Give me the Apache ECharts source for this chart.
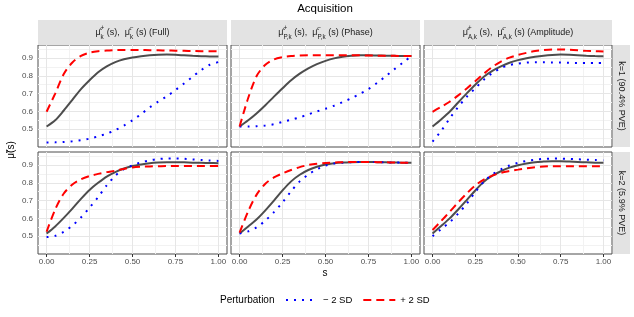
<!DOCTYPE html>
<html><head><meta charset="utf-8">
<script src="https://cdn.jsdelivr.net/npm/echarts@6/dist/echarts.min.js"></script>
<style>html,body{margin:0;padding:0;background:#fff}#c{width:634px;height:317px}</style>
</head><body><div id="c"></div>
<script>
// ---- data ----
const S = [0,0.05,0.1,0.15,0.2,0.25,0.3,0.35,0.4,0.45,0.5,0.55,0.6,0.65,0.7,0.75,0.8,0.85,0.9,0.95,1.0];

const fullK1Mean  = [0.515,0.55,0.605,0.665,0.725,0.775,0.82,0.853,0.877,0.893,0.903,0.91,0.915,0.918,0.919,0.918,0.915,0.912,0.91,0.909,0.908];
const fullK1Minus = [0.425,0.426,0.428,0.432,0.438,0.447,0.46,0.475,0.495,0.52,0.55,0.585,0.622,0.655,0.685,0.72,0.757,0.795,0.832,0.862,0.877];
const fullK1Plus  = [0.598,0.70,0.81,0.875,0.912,0.93,0.938,0.942,0.944,0.945,0.945,0.945,0.944,0.943,0.942,0.941,0.94,0.939,0.938,0.938,0.937];

const phaseK1Mean  = [0.515,0.55,0.59,0.635,0.683,0.73,0.775,0.812,0.842,0.866,0.884,0.898,0.907,0.912,0.915,0.915,0.914,0.913,0.912,0.911,0.911];
const phaseK1Minus = [0.515,0.515,0.517,0.521,0.528,0.541,0.553,0.567,0.583,0.6,0.615,0.632,0.652,0.674,0.698,0.725,0.76,0.797,0.836,0.874,0.911];
const phaseK1Plus  = [0.515,0.675,0.80,0.862,0.892,0.905,0.911,0.914,0.915,0.915,0.915,0.915,0.915,0.915,0.915,0.914,0.913,0.912,0.912,0.911,0.911];

const ampK1Mean  = [0.515,0.555,0.598,0.65,0.701,0.75,0.795,0.828,0.853,0.873,0.888,0.899,0.907,0.913,0.917,0.919,0.918,0.916,0.913,0.911,0.91];
const ampK1Minus = [0.43,0.49,0.56,0.625,0.682,0.73,0.778,0.815,0.843,0.86,0.869,0.874,0.876,0.876,0.875,0.874,0.873,0.872,0.872,0.872,0.872];
const ampK1Plus  = [0.598,0.625,0.654,0.69,0.729,0.77,0.812,0.85,0.88,0.902,0.917,0.929,0.939,0.945,0.948,0.948,0.946,0.943,0.94,0.938,0.937];

const fullK2Mean  = [0.515,0.555,0.603,0.655,0.71,0.76,0.8,0.835,0.86,0.88,0.894,0.903,0.91,0.914,0.916,0.916,0.915,0.913,0.912,0.911,0.91];
const fullK2Minus = [0.495,0.502,0.525,0.56,0.605,0.66,0.72,0.785,0.84,0.877,0.898,0.915,0.926,0.933,0.937,0.937,0.935,0.931,0.928,0.925,0.923];
const fullK2Plus  = [0.525,0.65,0.74,0.79,0.82,0.838,0.85,0.86,0.868,0.878,0.886,0.89,0.892,0.893,0.894,0.894,0.894,0.894,0.894,0.894,0.894];

const phaseK2Mean  = [0.515,0.555,0.595,0.645,0.7,0.757,0.808,0.845,0.872,0.89,0.903,0.91,0.914,0.916,0.917,0.917,0.916,0.915,0.914,0.913,0.913];
const phaseK2Minus = [0.515,0.527,0.55,0.588,0.635,0.69,0.753,0.808,0.846,0.876,0.896,0.908,0.913,0.916,0.917,0.917,0.916,0.915,0.914,0.913,0.913];
const phaseK2Plus  = [0.52,0.64,0.735,0.795,0.83,0.853,0.872,0.888,0.9,0.907,0.911,0.914,0.916,0.917,0.917,0.917,0.916,0.915,0.914,0.913,0.913];

const ampK2Mean  = [0.515,0.557,0.6,0.65,0.703,0.757,0.806,0.84,0.865,0.885,0.899,0.909,0.916,0.919,0.921,0.921,0.919,0.917,0.915,0.913,0.912];
const ampK2Minus = [0.5,0.54,0.578,0.627,0.682,0.748,0.806,0.847,0.875,0.897,0.912,0.923,0.93,0.934,0.936,0.936,0.934,0.932,0.93,0.928,0.927];
const ampK2Plus  = [0.535,0.585,0.637,0.69,0.74,0.785,0.818,0.84,0.856,0.866,0.874,0.882,0.888,0.891,0.893,0.893,0.893,0.893,0.893,0.893,0.893];

const X_TICKS = [0, 0.25, 0.5, 0.75, 1.0];
const X_MINOR = [0.125, 0.375, 0.625, 0.875];
const Y_TICKS = [0.5, 0.6, 0.7, 0.8, 0.9];
const Y_MINOR = [0.45, 0.55, 0.65, 0.75, 0.85, 0.95];

const TITLE = 'Acquisition';
const ROW_LABELS = ['k=1 (90.4% PVE)', 'k=2 (5.9% PVE)'];
const COL_SUBS = ['k', 'P,k', 'A,k'];
const COL_NAMES = ['(Full)', '(Phase)', '(Amplitude)'];
const LEG_TITLE = 'Perturbation';
const LEG_MINUS = '− 2 SD';
const LEG_PLUS = '+ 2 SD';

// ---- layout ----
const FONT = '"Liberation Sans", Arial, sans-serif';
const cols = [{left:38,width:189},{left:231,width:189},{left:424,width:188}];
const rows = [{top:45,height:102},{top:152,height:102}];
const panelData = [
  [[fullK1Mean, fullK1Minus, fullK1Plus],[phaseK1Mean, phaseK1Minus, phaseK1Plus],[ampK1Mean, ampK1Minus, ampK1Plus]],
  [[fullK2Mean, fullK2Minus, fullK2Plus],[phaseK2Mean, phaseK2Minus, phaseK2Plus],[ampK2Mean, ampK2Minus, ampK2Plus]]
];
const pairs = arr => S.map((s,i)=>[s, arr[i]]);

const grids=[], xAxes=[], yAxes=[], series=[];
const MAJ = {color:'#e6e6e6', width:1, type:'solid'};
const MIN = {color:'#f2f2f2', width:1, type:'solid'};
for (let r=0;r<2;r++) for (let c=0;c<3;c++){
  const gi = r*3+c;
  grids.push({left:cols[c].left, width:cols[c].width, top:rows[r].top, height:rows[r].height,
    show:true, borderColor:'#4d4d4d', borderWidth:1, backgroundColor:'#fff', containLabel:false});
  xAxes.push({gridIndex:gi, type:'value', min:-0.05, max:1.05,
    axisLine:{show:false}, splitLine:{show:false},
    axisTick:{show:r===1, length:3, lineStyle:{color:'#333'}, customValues:X_TICKS},
    axisLabel:{show:r===1, customValues:X_TICKS, formatter:v=>v.toFixed(2), color:'#4d4d4d', fontSize:8, margin:4, fontFamily:FONT}});
  yAxes.push({gridIndex:gi, type:'value', min:0.4, max:0.973,
    axisLine:{show:false}, splitLine:{show:false},
    axisTick:{show:c===0, length:3, lineStyle:{color:'#333'}, customValues:Y_TICKS},
    axisLabel:{show:c===0, customValues:Y_TICKS, formatter:v=>v.toFixed(1), color:'#4d4d4d', fontSize:8, margin:5, fontFamily:FONT}});
  const ml = [];
  Y_MINOR.forEach(v=>ml.push({yAxis:v, lineStyle:MIN}));
  X_MINOR.forEach(v=>ml.push({xAxis:v, lineStyle:MIN}));
  Y_TICKS.forEach(v=>ml.push({yAxis:v, lineStyle:MAJ}));
  X_TICKS.forEach(v=>ml.push({xAxis:v, lineStyle:MAJ}));
  series.push({type:'line', name:'grid', xAxisIndex:gi, yAxisIndex:gi, z:1, silent:true,
    data:[[0.5,0.7]], symbol:'none', lineStyle:{opacity:0},
    markLine:{z:1, silent:true, symbol:['none','none'], animation:false, label:{show:false}, emphasis:{disabled:true}, data:ml}});
  const [m, lo, hi] = panelData[r][c];
  series.push({type:'line', name:'mean', xAxisIndex:gi, yAxisIndex:gi, z:3, data:pairs(m), smooth:0.3,
    symbol:'none', lineStyle:{color:'#3a3a3a', width:2, opacity:0.9, type:'solid'}});
  series.push({type:'line', name:LEG_MINUS, xAxisIndex:gi, yAxisIndex:gi, z:4, data:pairs(lo), smooth:0.3,
    symbol:'none', itemStyle:{color:'#0000ff'}, lineStyle:{color:'#0000ff', width:2, type:[2,6], cap:'butt'}});
  series.push({type:'line', name:LEG_PLUS, xAxisIndex:gi, yAxisIndex:gi, z:5, data:pairs(hi), smooth:0.3,
    symbol:'none', itemStyle:{color:'#ff0000'}, lineStyle:{color:'#ff0000', width:2, type:[8,5], cap:'butt'}});
}

// ---- text helpers ----
const mctx = document.createElement('canvas').getContext('2d');
function tw(t, size){ mctx.font = size+'px '+FONT; return mctx.measureText(t).width; }
function txt(text, x, y, size, opts){
  return Object.assign({type:'text', x, y, z:20, silent:true,
    style:{text, fontSize:size, fontFamily:FONT, fill:'#1a1a1a', align:'left', verticalAlign:'middle'}}, opts||{});
}
function stripLabel(cx, cy, parts){
  const MS=9, SS=6.3;
  const widths = parts.map(p => p.t!=null ? tw(p.t,MS) : Math.max(tw(p.sup,SS), tw(p.sub,SS)));
  const total = widths.reduce((a,b)=>a+b,0);
  let x = cx - total/2; const els=[];
  parts.forEach((p,i)=>{
    if (p.t!=null) els.push(txt(p.t, x, cy, MS));
    else { els.push(txt(p.sup, x, cy-4.5, SS)); els.push(txt(p.sub, x, cy+4, SS)); }
    x += widths[i];
  });
  return els;
}

const graphics = [];
graphics.push({type:'text', x:325, y:9, z:20, silent:true, style:{text:TITLE, fontSize:11.5, fontFamily:FONT, fill:'#000', align:'center', verticalAlign:'middle'}});
cols.forEach((col,c)=>{
  graphics.push({type:'rect', z:5, silent:true, shape:{x:col.left, y:20, width:col.width, height:25}, style:{fill:'#e3e3e3'}});
  const sub = COL_SUBS[c];
  stripLabel(col.left+col.width/2, 33, [
    {t:'μ̂'},{sup:'+',sub:sub},{t:' (s),  μ̂'},{sup:'−',sub:sub},{t:' (s) '+COL_NAMES[c]}
  ]).forEach(e=>graphics.push(e));
});
rows.forEach((row,r)=>{
  graphics.push({type:'rect', z:5, silent:true, shape:{x:613, y:row.top, width:17, height:row.height}, style:{fill:'#e3e3e3'}});
  graphics.push({type:'text', x:621.5, y:row.top+row.height/2, rotation:-Math.PI/2, z:20, silent:true,
    style:{text:ROW_LABELS[r], fontSize:9, fontFamily:FONT, fill:'#1a1a1a', align:'center', verticalAlign:'middle'}});
});
graphics.push({type:'text', x:11, y:150, rotation:Math.PI/2, z:20, silent:true,
  style:{text:'μ̃(s)', fontSize:10, fontFamily:FONT, fill:'#000', align:'center', verticalAlign:'middle'}});
graphics.push({type:'text', x:325, y:273, z:20, silent:true,
  style:{text:'s', fontSize:10, fontFamily:FONT, fill:'#000', align:'center', verticalAlign:'middle'}});
graphics.push({type:'text', x:220, y:300, z:20, silent:true,
  style:{text:LEG_TITLE, fontSize:10, fontFamily:FONT, fill:'#000', align:'left', verticalAlign:'middle'}});

const option = {
  animation:false,
  grid:grids, xAxis:xAxes, yAxis:yAxes, series,
  legend:{data:[LEG_MINUS, LEG_PLUS], left:285, top:295, padding:0, itemWidth:32, itemHeight:10, itemGap:10,
    selectedMode:false, itemStyle:{opacity:0}, textStyle:{fontSize:9.5, fontFamily:FONT, color:'#000'}},
  graphic:graphics
};
const chart = echarts.init(document.getElementById('c'), null, {renderer:'canvas'});
chart.setOption(option);
</script></body></html>
